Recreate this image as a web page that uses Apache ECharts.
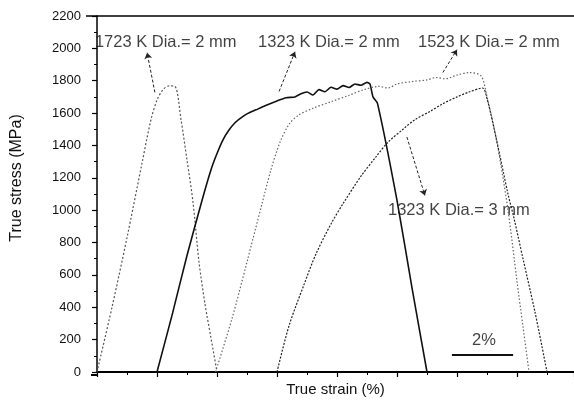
<!DOCTYPE html>
<html>
<head>
<meta charset="utf-8">
<script src="https://cdn.jsdelivr.net/npm/echarts@6/dist/echarts.min.js"></script>
<style>
  html, body { margin: 0; padding: 0; background: #fff; }
  #main { width: 574px; height: 402px; }
</style>
</head>
<body>
<div id="main"></div>
<script>
// tick labels
const stressTicks = [0, 200, 400, 600, 800, 1000, 1200, 1400, 1600, 1800, 2000, 2200];

// 1723 K, Dia. = 2 mm
const strain1723 = [0, 0.5, 1.0, 1.5, 1.8, 2.0, 2.2, 2.4, 2.6, 2.8, 3.0, 3.2, 3.4, 3.6, 3.8, 4.0];
const stress1723 = [0, 400, 830, 1290, 1560, 1680, 1745, 1768, 1765, 1560, 1310, 1050, 680, 420, 210, 0];

// 1323 K, Dia. = 2 mm
const strain1323a = [2.0, 2.5, 3.0, 3.5, 3.8, 4.0, 4.2, 4.4, 4.6, 4.8, 5.0, 5.3, 5.6, 6.0, 6.3, 6.6, 6.8, 7.0, 7.2, 7.4, 7.6, 7.8, 8.0, 8.2, 8.4, 8.6, 8.8, 9.0, 9.1, 9.2, 9.35, 10.0, 10.5, 11.0];
const stress1323a = [0, 350, 720, 1060, 1250, 1350, 1435, 1495, 1540, 1570, 1595, 1620, 1645, 1675, 1695, 1700, 1720, 1730, 1712, 1745, 1732, 1760, 1748, 1770, 1758, 1780, 1772, 1790, 1780, 1700, 1660, 1060, 520, 0];

// 1523 K, Dia. = 2 mm
const strain1523 = [3.95, 4.5, 5.0, 5.5, 5.8, 6.1, 6.4, 6.7, 7.2, 7.8, 8.4, 8.9, 9.4, 9.7, 10.0, 10.5, 11.0, 11.3, 11.6, 12.0, 12.4, 12.8, 13.0, 13.3, 13.7, 14.0, 14.2, 14.4];
const stress1523 = [0, 330, 680, 1040, 1250, 1420, 1530, 1585, 1630, 1670, 1710, 1745, 1765, 1755, 1780, 1795, 1805, 1820, 1812, 1835, 1850, 1830, 1700, 1450, 1000, 560, 280, 0];

// 1323 K, Dia. = 3 mm
const strain1323b = [6.0, 6.4, 6.9, 7.3, 7.8, 8.2, 8.8, 9.3, 9.7, 10.2, 10.6, 11.1, 11.5, 12.0, 12.4, 12.85, 13.0, 13.3, 13.7, 13.9, 14.2, 14.6, 15.0];
const stress1323b = [0, 285, 540, 730, 915, 1040, 1210, 1330, 1420, 1500, 1560, 1610, 1655, 1700, 1730, 1755, 1690, 1450, 1100, 950, 700, 370, 0];

// annotations: text and where it sits (strain %, MPa)
const noteText = ['1723 K Dia.= 2 mm', '1323 K Dia.= 2 mm', '1523 K Dia.= 2 mm', '1323 K Dia.= 3 mm', '2%'];
const noteStrain = [-0.07, 5.37, 10.7, 9.7, 12.5];
const noteStress = [2035, 2035, 2035, 1000, 196];

// arrows from curve to label
const arrowFrom = [[1.93, 1728], [6.07, 1734], [11.53, 1851], [10.33, 1452]];
const arrowTo = [[1.67, 1973], [6.6, 1979], [12.0, 1992], [10.93, 1091]];

// 2% scale bar
const barStrain = [11.83, 13.87];
const barStress = 104;

function zip(xs, ys) {
    return xs.map((x, i) => [x, ys[i]]);
}

const fontFamily = '"Liberation Sans", Arial, sans-serif';

let myChart = echarts.init(document.getElementById('main'), null, {renderer: 'canvas'});

let option = {
    backgroundColor: '#fff',
    animation: false,
    textStyle: {fontFamily: fontFamily},
    grid: {left: 97, right: 0, top: 16, bottom: 27},
    xAxis: {
        type: 'value',
        min: 0,
        max: 15.9,
        interval: 2,
        name: 'True strain (%)',
        nameLocation: 'middle',
        nameGap: 10,
        nameTextStyle: {fontSize: 15, color: '#111', fontFamily: fontFamily},
        axisLine: {show: true, lineStyle: {color: '#000', width: 2}},
        axisTick: {show: true, inside: false, length: 5, lineStyle: {color: '#000', width: 1.2}},
        minorTick: {show: true, splitNumber: 2, length: 3, lineStyle: {color: '#000', width: 1}},
        axisLabel: {show: false},
        splitLine: {show: false}
    },
    yAxis: {
        type: 'value',
        min: 0,
        max: 2200,
        interval: 200,
        offset: 5,
        axisLine: {show: true, lineStyle: {color: '#000', width: 1.5}},
        axisTick: {show: true, inside: false, length: 5, lineStyle: {color: '#000', width: 1.2}},
        minorTick: {show: true, splitNumber: 2, length: 3, lineStyle: {color: '#000', width: 1}},
        axisLabel: {
            margin: 11,
            fontSize: 13,
            color: '#111',
            fontFamily: fontFamily,
            formatter: function (v) {
                return stressTicks.indexOf(v) >= 0 ? String(v) : '';
            }
        },
        splitLine: {show: false}
    },
    graphic: [
        {type: 'line', shape: {x1: 86, y1: 16, x2: 574, y2: 16}, style: {stroke: '#000', lineWidth: 1.5}},
        {type: 'line', shape: {x1: 91, y1: 375, x2: 98, y2: 375}, style: {stroke: '#000', lineWidth: 2}},
        {
            type: 'text',
            x: 17,
            y: 178,
            rotation: Math.PI / 2,
            style: {
                text: 'True stress (MPa)',
                fill: '#111',
                font: '16px ' + fontFamily,
                textAlign: 'center',
                textVerticalAlign: 'middle'
            }
        }
    ],
    series: [
        {
            name: '1723 K Dia.= 2 mm',
            type: 'line',
            showSymbol: false,
            smooth: 0.3,
            data: zip(strain1723, stress1723),
            lineStyle: {color: '#555', width: 1.2, type: [2, 2]}
        },
        {
            name: '1323 K Dia.= 2 mm',
            type: 'line',
            showSymbol: false,
            smooth: 0.2,
            data: zip(strain1323a, stress1323a),
            lineStyle: {color: '#111', width: 1.6}
        },
        {
            name: '1523 K Dia.= 2 mm',
            type: 'line',
            showSymbol: false,
            smooth: 0.3,
            data: zip(strain1523, stress1523),
            lineStyle: {color: '#666', width: 1.2, type: [1.5, 2]}
        },
        {
            name: '1323 K Dia.= 3 mm',
            type: 'line',
            showSymbol: false,
            smooth: 0.3,
            data: zip(strain1323b, stress1323b),
            lineStyle: {color: '#222', width: 1.2, type: [2, 1.5]}
        },
        {
            name: 'notes',
            type: 'scatter',
            clip: false,
            symbolSize: 0,
            data: noteText.map((t, i) => ({name: t, value: [noteStrain[i], noteStress[i]]})),
            label: {
                show: true,
                position: 'right',
                distance: 0,
                formatter: '{b}',
                fontSize: 16.5,
                color: '#111',
                fontFamily: fontFamily
            },
            markLine: {
                silent: true,
                symbol: ['none', 'arrow'],
                symbolSize: 6,
                label: {show: false},
                lineStyle: {color: '#222', width: 1, type: [3, 2]},
                data: arrowFrom.map((p, i) => [{coord: p}, {coord: arrowTo[i]}]).concat([
                    [
                        {coord: [barStrain[0], barStress], symbol: 'none', lineStyle: {type: 'solid', width: 2, color: '#111'}},
                        {coord: [barStrain[1], barStress], symbol: 'none'}
                    ]
                ])
            }
        }
    ]
};

myChart.setOption(option);
</script>
</body>
</html>
